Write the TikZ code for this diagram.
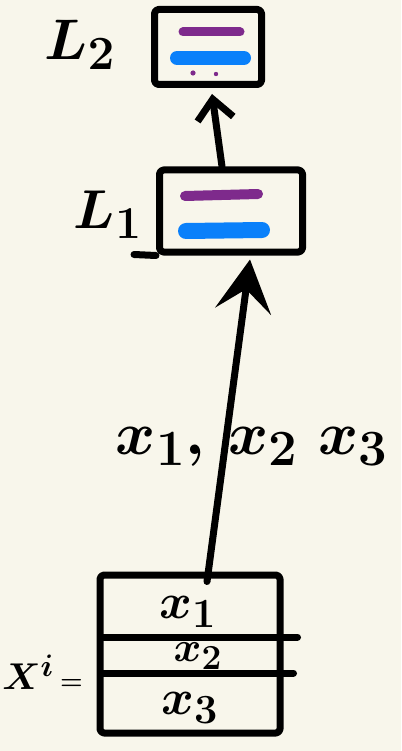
\documentclass[tikz,border=0pt]{standalone}
\usepackage{amsmath,amssymb}
\usetikzlibrary{arrows.meta,positioning}

\definecolor{paper}{HTML}{F8F6EB}
\definecolor{inkpurple}{HTML}{7E2A8C}
\definecolor{inkblue}{HTML}{0A80FA}

\begin{document}
\begin{tikzpicture}[x=1pt, y=-1pt, >=Stealth, line width=7pt, line cap=round, line join=round]

    % paper and fixed frame
    \fill[paper] (0,0) rectangle (401,751);
    \useasboundingbox (0,0) rectangle (401,751);

    \tikzset{
      layerbox/.style={draw, rounded corners=4pt, inner sep=0pt},
      hand/.style={inner sep=0pt, font=\Huge\boldmath}
    }

    % 1. the two layer boxes and the input box
    \node[layerbox, minimum width=107pt, minimum height=75pt] (L2) at (208,47) {};
    \node[layerbox, minimum width=143pt, minimum height=82pt] (L1) at (231,211) {};
    \node[layerbox, minimum width=180pt, minimum height=158pt] (X) at (190,654) {};

    % short stroke left of the L1 box bottom
    \draw (L1.south west) -- ++(-22,-1);

    % 2. rows inside the input box
    \draw ([xshift=4pt, yshift=17pt]X.west) -- ([xshift=14pt, yshift=17pt]X.east);
    \draw ([xshift=4pt, yshift=-19pt]X.west) -- ([xshift=10pt, yshift=-19pt]X.east);

    % 3. coloured strokes inside the layer boxes
    \draw[inkpurple, line width=9pt] (183,32) -- (240,32);
    \draw[inkblue, line width=14pt] (177,58) -- (244,58);
    \fill[inkpurple] (193,73) circle (2.6pt) (216,74) circle (2.2pt);
    \draw[inkpurple, line width=10pt] (185,196) -- (258,194);
    \draw[inkblue, line width=16pt] (186,231) -- (262,230);

    % 4. arrows between the boxes
    \draw[-{Straight Barb[length=20pt, width=36pt]}] ([xshift=-9pt]L1.north) -- ([xshift=4pt, yshift=-6pt]L2.south);
    \draw[-{Stealth[length=52pt, width=56pt, inset=22pt]}] ([xshift=17pt, yshift=-10pt]X.north) -- ([xshift=19pt, yshift=-4pt]L1.south);

    % 5. labels
    \node[hand, scale=2.3] (L2lab) at (80,45) {$L_2$};
    \node[hand, scale=2.2] (L1lab) at (108,215) {$L_1$};
    \node[hand, scale=2.45] (inputs) at (252,447) {$x_1,\, x_2\; x_3$};
    \node[hand, scale=2.0] (cell1) at (188,612) {$x_1$};
    \node[hand, scale=1.7] (cell2) at (198,656) {$x_2$};
    \node[hand, scale=2.0] (cell3) at (190,708) {$x_3$};
    \node[hand, scale=1.5, anchor=east] (Xlab) at (88,672)
      {$X^{i}$\,{\LARGE$=$}};

\end{tikzpicture}
\end{document}
